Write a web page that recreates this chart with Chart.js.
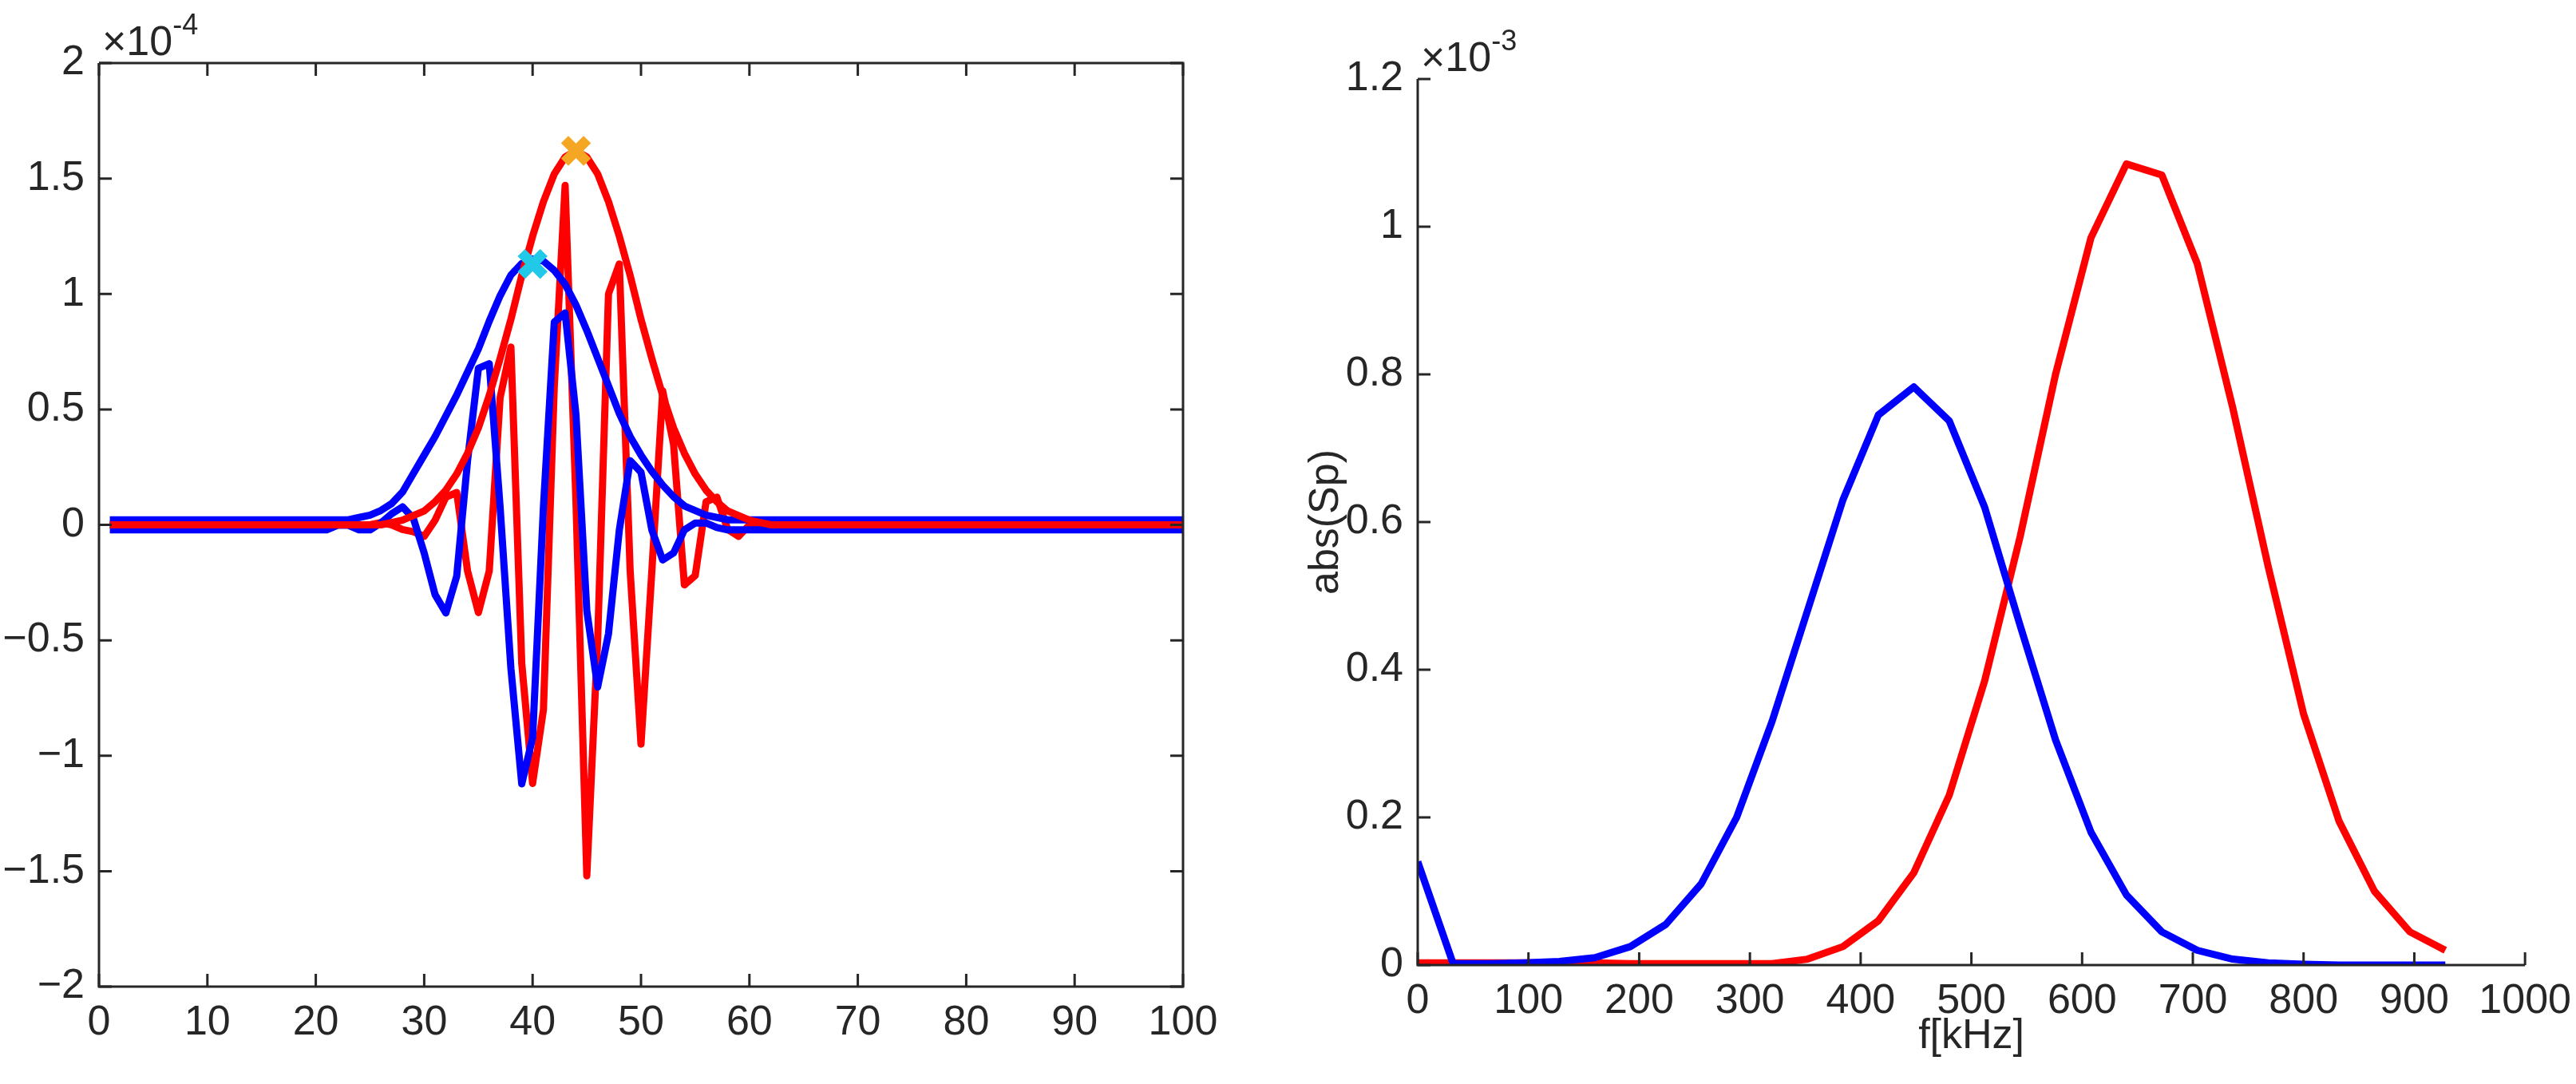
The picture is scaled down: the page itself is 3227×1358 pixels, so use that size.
<!DOCTYPE html>
<html><head><meta charset="utf-8">
<script src="https://cdn.jsdelivr.net/npm/chart.js@4"></script>
<style>body{margin:0;background:#fff;width:3227px;height:1358px;overflow:hidden}
.w{position:absolute;top:0;height:1358px}</style></head><body>
<div class="w" style="left:0;width:1560px"><canvas id="c1"></canvas></div>
<div class="w" style="left:1600px;width:1627px"><canvas id="c2"></canvas></div>
<script>
// Left chart (values in units of 1e-4), sample index 1..100
const leftX = Array.from({length:100},(_, i)=>i+1);
const redOsc = {26:0.01,27:0,28:-0.02,29:-0.03,30:-0.05,31:0.02,32:0.12,33:0.14,34:-0.2,35:-0.38,36:-0.2,37:0.55,38:0.77,39:-0.6,40:-1.12,41:-0.8,42:0.6,43:1.47,44:0.1,45:-1.52,46:-0.5,47:1.0,48:1.13,49:-0.2,50:-0.95,51:-0.2,52:0.58,53:0.35,54:-0.26,55:-0.22,56:0.1,57:0.12,58:-0.02,59:-0.05};
const redEnv = {27:0.01,28:0.02,29:0.04,30:0.06,31:0.10,32:0.15,33:0.22,34:0.31,35:0.42,36:0.56,37:0.72,38:0.89,39:1.08,40:1.25,41:1.40,42:1.52,43:1.593,44:1.62,45:1.593,46:1.52,47:1.40,48:1.25,49:1.08,50:0.89,51:0.72,52:0.56,53:0.42,54:0.31,55:0.22,56:0.15,57:0.10,58:0.06,59:0.04,60:0.02,61:0.01};
const blueOsc = {22:0.02,23:0.02,24:0,25:0,26:0.03,27:0.07,28:0.1,29:0.05,30:-0.1,31:-0.28,32:-0.36,33:-0.2,34:0.3,35:0.7,36:0.72,37:0.1,38:-0.6,39:-1.1,40:-0.9,41:0.1,42:0.9,43:0.94,44:0.5,45:-0.35,46:-0.68,47:-0.45,48:0,49:0.3,50:0.25,51:0.0,52:-0.13,53:-0.1,54:0,55:0.03,56:0.03,57:0.01};
const blueEnv = {24:0.01,25:0.02,26:0.04,27:0.07,28:0.12,29:0.2,30:0.28,31:0.36,32:0.45,33:0.54,34:0.64,35:0.74,36:0.86,37:0.97,38:1.06,39:1.11,40:1.13,41:1.12,42:1.08,43:1.02,44:0.93,45:0.82,46:0.7,47:0.58,48:0.46,49:0.36,50:0.28,51:0.21,52:0.15,53:0.1,54:0.06,55:0.04,56:0.02,57:0.01};
const redPeak = {x:44, y:1.62};
const bluePeak = {x:40, y:1.13};
const leftYTicks = [-2,-1.5,-1,-0.5,0,0.5,1,1.5,2];
const leftXTicks = [0,10,20,30,40,50,60,70,80,90,100];

// Right chart: spectrum (values in units of 1e-3)
const freq = Array.from({length:30},(_, k)=>k*32);
const blueSpec = [0.14,0.002,0.002,0.003,0.005,0.01,0.025,0.055,0.11,0.2,0.33,0.48,0.63,0.745,0.783,0.737,0.62,0.46,0.305,0.18,0.095,0.045,0.02,0.008,0.003,0.001,0,0,0,0];
const redSpec = [0.003,0.003,0.003,0.003,0.003,0.003,0.002,0.002,0.002,0.002,0.002,0.008,0.025,0.06,0.125,0.23,0.385,0.58,0.8,0.985,1.085,1.07,0.95,0.755,0.54,0.34,0.195,0.1,0.045,0.02];
const rightYTicks = [0,0.2,0.4,0.6,0.8,1,1.2];
const rightXTicks = [0,100,200,300,400,500,600,700,800,900,1000];

const FONT = "'Liberation Sans', Arial, sans-serif";
const FS = 52;
const TC = '#262626';
const fmt = v => (v<0?'\u2212':'') + String(Math.abs(v));
const pts = (obj, off) => leftX.map(x => ({x, y:(obj[x]||0)+off}));

function axisPlugin(box, expText){
  return {id:'ax', afterDraw(ch){
    const c=ch.ctx, a=ch.chartArea, xs=ch.scales.x, ys=ch.scales.y;
    c.save(); c.strokeStyle=TC; c.lineWidth=3;
    c.beginPath();
    c.moveTo(a.left,a.top); c.lineTo(a.left,a.bottom); c.lineTo(a.right,a.bottom);
    if(box){c.lineTo(a.right,a.top); c.lineTo(a.left,a.top);}
    c.stroke();
    const L=16;
    c.beginPath();
    xs.ticks.forEach(t=>{const p=xs.getPixelForValue(t.value);
      c.moveTo(p,a.bottom); c.lineTo(p,a.bottom-L);
      if(box){c.moveTo(p,a.top); c.lineTo(p,a.top+L);} });
    ys.ticks.forEach(t=>{const p=ys.getPixelForValue(t.value);
      c.moveTo(a.left,p); c.lineTo(a.left+L,p);
      if(box){c.moveTo(a.right,p); c.lineTo(a.right-L,p);} });
    c.stroke();
    c.fillStyle=TC; c.textBaseline='alphabetic';
    c.font=FS+'px '+FONT; c.fillText('\u00d710',a.left+4,a.top-10);
    const w=c.measureText('\u00d710').width;
    c.font='36px '+FONT; c.fillText(expText,a.left+4+w,a.top-36);
    c.restore();
  }};
}
function scales(xmax,ymax,yW,xH,xTitle,yTitle){
  return {
    x:{type:'linear',min:0,max:xmax,grid:{display:false},border:{display:false},
      afterBuildTicks:s=>{s.ticks=(xmax===100?leftXTicks:rightXTicks).map(v=>({value:v}));},
      ticks:{color:TC,font:{size:FS,family:FONT},maxRotation:0,padding:6,callback:v=>fmt(v)},
      title:{display:!!xTitle,text:xTitle,color:TC,font:{size:FS,family:FONT},padding:{top:0,bottom:28}},
      afterFit:s=>{s.height=xH;}},
    y:{type:'linear',min:ymax===2?-2:0,max:ymax,grid:{display:false},border:{display:false},
      afterBuildTicks:s=>{s.ticks=(ymax===2?leftYTicks:rightYTicks).map(v=>({value:v}));},
      ticks:{color:TC,font:{size:FS,family:FONT},padding:10,callback:v=>fmt(v)},
      title:{display:!!yTitle,text:yTitle,color:TC,font:{size:FS,family:FONT},padding:{top:0,bottom:0}},
      afterFit:s=>{s.width=yW;}}
  };
}
const common = {responsive:true,maintainAspectRatio:false,animation:false,
  plugins:{legend:{display:false},tooltip:{enabled:false}},
  elements:{point:{radius:0},line:{tension:0,borderWidth:9,borderJoinStyle:'round'}}};

new Chart(document.getElementById('c1'),{type:'line',
  data:{datasets:[
    {data:[redPeak],order:0,borderColor:'#f5a623',backgroundColor:'#f5a623',showLine:false,pointStyle:'crossRot',pointRadius:20,pointBorderWidth:13},
    {data:[bluePeak],order:0,borderColor:'#22c8e8',backgroundColor:'#22c8e8',showLine:false,pointStyle:'crossRot',pointRadius:20,pointBorderWidth:13},
    {data:pts(redEnv,0),order:1,borderColor:'#ff0000'},
    {data:pts(blueOsc,-0.022),order:2,borderColor:'#0000ff'},
    {data:pts(blueEnv,0.022),order:3,borderColor:'#0000ff'},
    {data:pts(redOsc,0),order:4,borderColor:'#ff0000'}
  ]},
  options:{...common,layout:{padding:{top:79,right:78,left:0,bottom:0}},
    scales:scales(100,2,124,122,'','')},
  plugins:[axisPlugin(true,'-4')]});

new Chart(document.getElementById('c2'),{type:'line',
  data:{datasets:[
    {data:freq.map((f,i)=>({x:f,y:blueSpec[i]})),order:1,borderColor:'#0000ff'},
    {data:freq.map((f,i)=>({x:f,y:redSpec[i]})),order:2,borderColor:'#ff0000'}
  ]},
  options:{...common,layout:{padding:{top:99,right:60,left:30,bottom:0}},
    scales:scales(1000,1.2,146,149,'f[kHz]','abs(Sp)')},
  plugins:[axisPlugin(false,'-3')]});
</script></body></html>
